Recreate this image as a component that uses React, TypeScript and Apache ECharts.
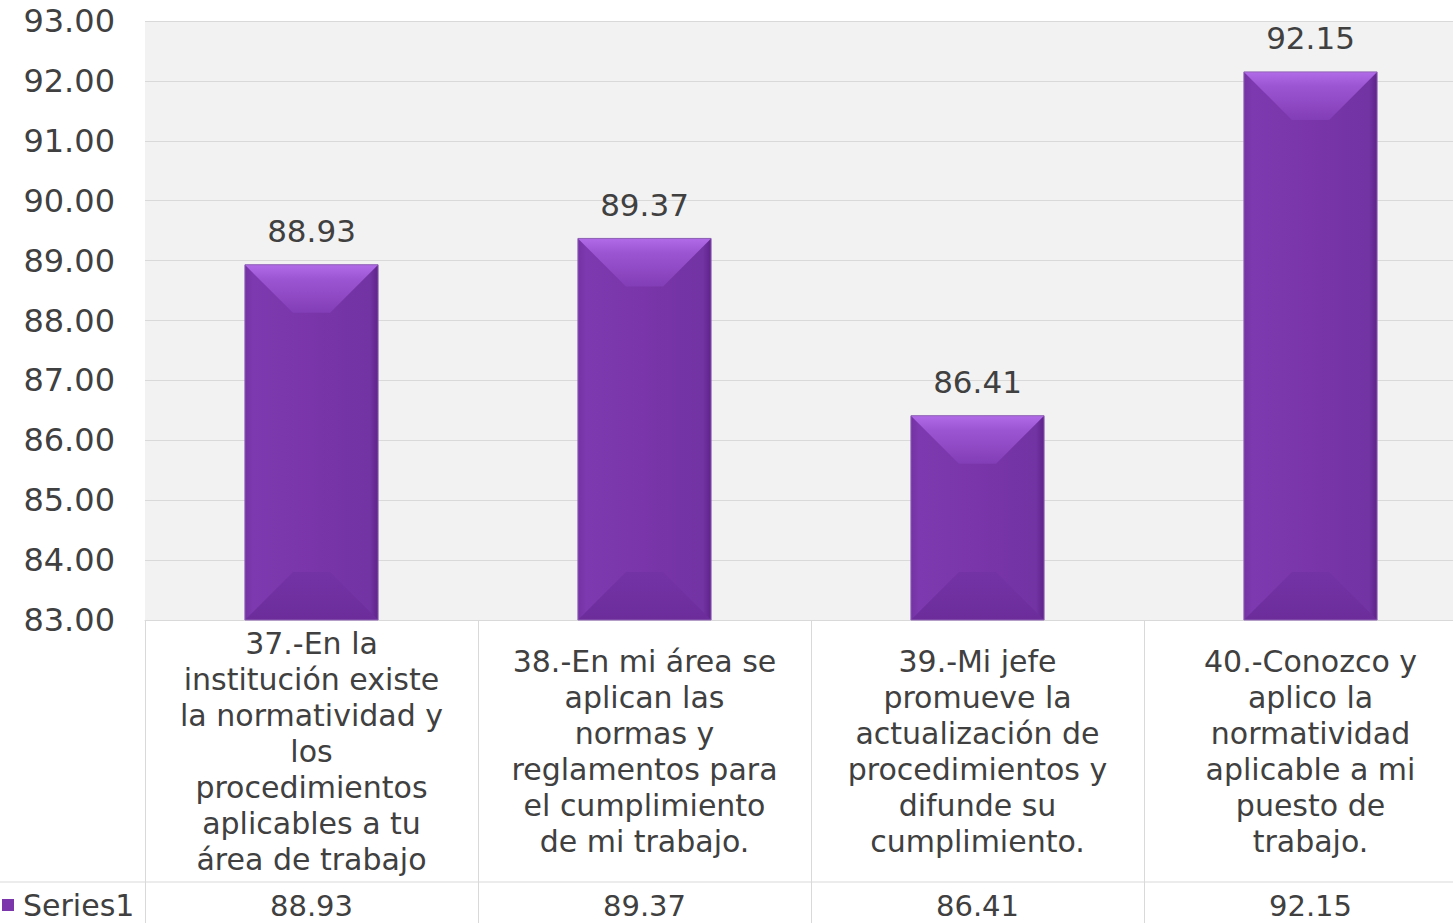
import React, { useEffect, useRef } from "react";
import * as echarts from "echarts";

const categories: string[] = [
  "37.-En la\ninstitución existe\nla normatividad y\nlos\nprocedimientos\naplicables a tu\nárea de trabajo",
  "38.-En mi área se\naplican las\nnormas y\nreglamentos para\nel cumplimiento\nde mi trabajo.",
  "39.-Mi jefe\npromueve la\nactualización de\nprocedimientos y\ndifunde su\ncumplimiento.",
  "40.-Conozco y\naplico la\nnormatividad\naplicable a mi\npuesto de\ntrabajo.",
];
const values: number[] = [88.93, 89.37, 86.41, 92.15];
const seriesName = "Series1";
const yMin = 83;
const yMax = 93;
const yInterval = 1;

const FONT = "DejaVu Sans";
const TEXT = "#404040";
const GRID = "#d9d9d9";

export default function App() {
  const ref = useRef<HTMLDivElement>(null);
  useEffect(() => {
    if (!ref.current) return;
    const chart = echarts.init(ref.current, null, { renderer: "svg" });
    const option: any = {
      animation: false,
      textStyle: { fontFamily: FONT },
      grid: {
        left: 145,
        top: 21,
        width: 1332,
        height: 599,
        show: true,
        backgroundColor: "#f2f2f2",
        borderWidth: 0,
        containLabel: false,
      },
      legend: {
        data: [seriesName],
        left: 2,
        top: 890,
        padding: 0,
        icon: "rect",
        itemWidth: 12,
        itemHeight: 12,
        itemGap: 8,
        textStyle: { fontFamily: FONT, fontSize: 30, color: TEXT, padding: [0, 0, 0, 4] },
      },
      xAxis: [
        {
          type: "category",
          data: categories,
          axisLine: { show: true, lineStyle: { color: GRID, width: 1 } },
          axisTick: { show: true, interval: 0, length: 310, lineStyle: { color: GRID, width: 1 } },
          axisLabel: {
            interval: 0,
            hideOverlap: false,
            fontFamily: FONT,
            fontSize: 30,
            lineHeight: 36,
            color: TEXT,
            verticalAlign: "middle",
            align: "center",
            margin: 131,
          },
          splitLine: { show: false },
        },
        {
          type: "category",
          data: values.map((v) => v.toFixed(2)),
          position: "bottom",
          offset: 262,
          axisLine: { show: false },
          axisTick: { show: false },
          axisLabel: {
            interval: 0,
            fontFamily: FONT,
            fontSize: 29,
            lineHeight: 30,
            color: TEXT,
            verticalAlign: "middle",
            margin: 24,
          },
        },
      ],
      yAxis: {
        type: "value",
        min: yMin,
        max: yMax,
        interval: yInterval,
        axisLine: { show: false },
        axisTick: { show: false },
        splitLine: { show: true, lineStyle: { color: GRID, width: 1 } },
        axisLabel: {
          formatter: (v: number) => v.toFixed(2),
          fontFamily: FONT,
          fontSize: 32,
          color: TEXT,
          margin: 30,
        },
      },
      graphic: [
        {
          type: "line",
          shape: { x1: 0, y1: 882, x2: 1477, y2: 882 },
          style: { stroke: GRID, lineWidth: 1 },
          z: 10,
        },
      ],
      series: [
        {
          type: "custom",
          name: seriesName,
          xAxisIndex: 0,
          itemStyle: { color: "#7a36aa" },
          data: values.map((v, i) => [i, v]),
          encode: { x: 0, y: 1 },
          renderItem: (params: any, api: any) => {
            const idx = api.value(0);
            const val = api.value(1);
            const top = api.coord([idx, val]);
            const base = api.coord([idx, yMin]);
            const band = api.size([1, 0])[0];
            const w = band * 0.4;
            const x0 = top[0] - w / 2;
            const x1 = top[0] + w / 2;
            const y0 = top[1];
            const y1 = base[1];
            const h = y1 - y0;
            const b = Math.min(48, h / 2, w / 2);
            return {
              type: "group",
              children: [
                {
                  type: "rect",
                  shape: { x: x0, y: y0, width: w, height: h },
                  style: {
                    fill: new echarts.graphic.LinearGradient(0, 0, 1, 0, [
                      { offset: 0, color: "#7332a4" },
                      { offset: 0.06, color: "#7d39af" },
                      { offset: 0.5, color: "#7935a9" },
                      { offset: 0.94, color: "#7233a3" },
                      { offset: 1, color: "#5e2389" },
                    ]),
                  },
                },
                {
                  type: "polygon",
                  shape: {
                    points: [
                      [x0, y0],
                      [x1, y0],
                      [x1 - b, y0 + b],
                      [x0 + b, y0 + b],
                    ],
                  },
                  style: {
                    fill: new echarts.graphic.LinearGradient(0, 0, 0, 1, [
                      { offset: 0, color: "#b26be8" },
                      { offset: 0.3, color: "#9c55d2" },
                      { offset: 1, color: "#823eb6" },
                    ]),
                  },
                },
                {
                  type: "polygon",
                  shape: {
                    points: [
                      [x0, y1],
                      [x1, y1],
                      [x1 - b, y1 - b],
                      [x0 + b, y1 - b],
                    ],
                  },
                  style: {
                    fill: new echarts.graphic.LinearGradient(0, 0, 0, 1, [
                      { offset: 0, color: "#7433a5" },
                      { offset: 1, color: "#6c2d9b" },
                    ]),
                  },
                },
                {
                  type: "rect",
                  shape: { x: x0, y: y0, width: w, height: h },
                  style: { fill: "none", stroke: "#8f62b5", lineWidth: 1 },
                },
                {
                  type: "text",
                  style: {
                    text: val.toFixed(2),
                    x: top[0],
                    y: y0 - 18,
                    align: "center",
                    verticalAlign: "bottom",
                    fontFamily: FONT,
                    fontSize: 31,
                    fill: TEXT,
                  },
                },
              ],
            };
          },
        },
      ],
    };
    chart.setOption(option);
    return () => chart.dispose();
  }, []);
  return (
    <div
      style={{
        position: "fixed",
        left: 0,
        top: 0,
        width: 1453,
        height: 923,
        overflow: "hidden",
        background: "#ffffff",
      }}
    >
      <div ref={ref} style={{ width: 1477, height: 923 }} />
    </div>
  );
}
